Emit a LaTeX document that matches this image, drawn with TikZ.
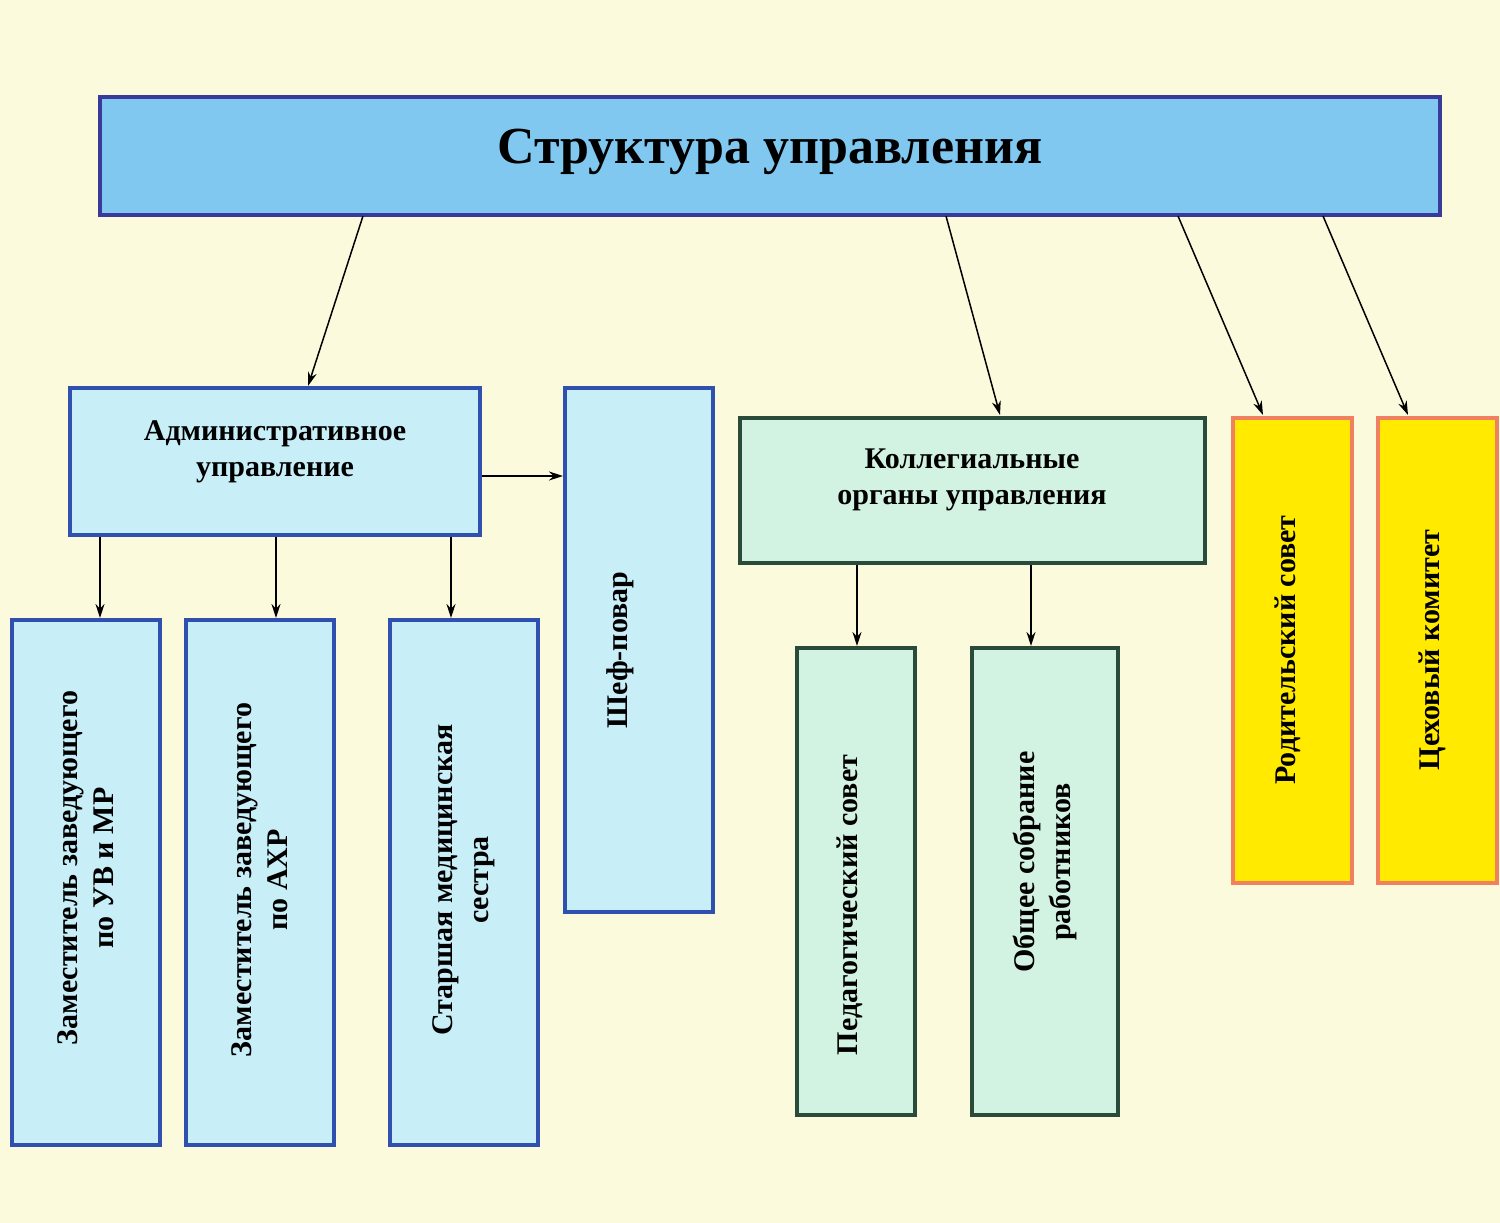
\documentclass[tikz,border=0pt]{standalone}
\usepackage{fontspec}
\setmainfont{Liberation Serif}
\usetikzlibrary{arrows.meta}
\definecolor{bg}{HTML}{FCFADC}
\definecolor{topf}{HTML}{80C8F0}
\definecolor{topd}{HTML}{3A3A9A}
\definecolor{cyf}{HTML}{C8EEF8}
\definecolor{cyd}{HTML}{3050B0}
\definecolor{grf}{HTML}{D2F2E2}
\definecolor{grd}{HTML}{2A4A3A}
\definecolor{yef}{HTML}{FFEA00}
\definecolor{yed}{HTML}{F08060}
\begin{document}
\begin{tikzpicture}[x=1pt,y=-1pt,
 box/.style={line width=4pt,inner sep=0pt,align=center,font=\bfseries\fontsize{30}{36}\selectfont},
 cyan box/.style={box,draw=cyd,fill=cyf},
 green box/.style={box,draw=grd,fill=grf},
 yellow box/.style={box,draw=yed,fill=yef},
 arr/.style={-{Stealth[length=14pt,width=9pt]},line width=1.5pt}]
\fill[bg] (0,0) rectangle (1500,1223);
\useasboundingbox (0,0) rectangle (1500,1223);
\newcommand\bx[6]{\draw[#6] (#2,#3) rectangle (#4,#5) node[midway,#6,draw=none,fill=none] (#1) {};}
\draw[box,draw=topd,fill=topf] (100,97) rectangle (1440,215);
\node[font=\bfseries\fontsize{52}{60}\selectfont] (top) at (770,152) {Структура управления};
\draw[cyan box] (70,388) rectangle (480,535);
\node[box,align=center] (adm) at (275,452) {Административное\\управление};
\draw[cyan box] (565,388) rectangle (713,912);
\node[box,rotate=90] (chef) at (620,650) {Шеф-повар};
\draw[cyan box] (12,620) rectangle (160,1145);
\node[box,rotate=90] (z1) at (86,868) {Заместитель заведующего\\по УВ и МР};
\draw[cyan box] (186,620) rectangle (334,1145);
\node[box,rotate=90] (z2) at (260,880) {Заместитель заведующего\\по АХР};
\draw[cyan box] (390,620) rectangle (538,1145);
\node[box,rotate=90] (ns) at (464,880) {Старшая медицинская\\сестра};
\draw[green box] (740,418) rectangle (1205,563);
\node[box] (col) at (972,480) {Коллегиальные\\органы управления};
\draw[green box] (797,648) rectangle (915,1115);
\node[box,rotate=90] (ped) at (850,905) {Педагогический совет};
\draw[green box] (972,648) rectangle (1118,1115);
\node[box,rotate=90] (ob) at (1045,862) {Общее собрание\\работников};
\draw[yellow box] (1233,418) rectangle (1352,883);
\node[box,rotate=90] (rod) at (1288,650) {Родительский совет};
\draw[yellow box] (1378,418) rectangle (1497,883);
\node[box,rotate=90] (tse) at (1432,650) {Цеховый комитет};
\coordinate (t1) at (363,216); \coordinate (a1) at (308,386);
\coordinate (t2) at (946,216); \coordinate (c2) at (1000,415);
\coordinate (t3) at (1178,216); \coordinate (r3) at (1263,415);
\coordinate (t4) at (1323,216); \coordinate (r4) at (1408,415);
\draw[arr] (t1) -- (a1);
\draw[arr] (t2) -- (c2);
\draw[arr] (t3) -- (r3);
\draw[arr] (t4) -- (r4);
\coordinate (ar) at (482,476); \coordinate (cl) at (563,476);
\draw[arr] (ar) -- (cl);
\foreach \x/\n in {100/a,276/b,451/c}{
 \coordinate (s\n) at (\x,537); \coordinate (e\n) at (\x,618);
 \draw[arr] (s\n) -- (e\n);}
\foreach \x/\n in {857/d,1031/e}{
 \coordinate (s\n) at (\x,565); \coordinate (e\n) at (\x,646);
 \draw[arr] (s\n) -- (e\n);}
\end{tikzpicture}
\end{document}
